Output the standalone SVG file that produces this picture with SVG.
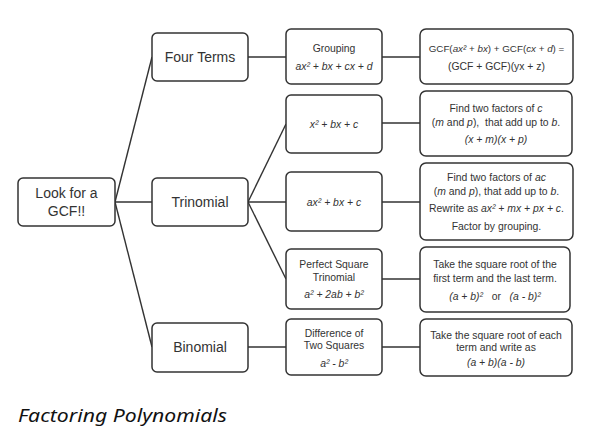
<svg xmlns="http://www.w3.org/2000/svg" width="595" height="443" viewBox="0 0 595 443">
<style>
.box{fill:#fff;stroke:#333;stroke-width:1.5}
.con line{stroke:#333;stroke-width:1.4}
text{font-family:"Liberation Sans",Arial,sans-serif;fill:#333;text-anchor:middle}
.big{font-size:14px}
.sm{font-size:10.4px}
.it{font-style:italic}
.title{font-family:"Noto Sans",sans-serif;font-style:italic;font-size:18px;fill:#111;text-anchor:start}
</style>
<rect width="595" height="443" fill="#fff"/>
<g class="con">
<line x1="115" y1="202" x2="152" y2="57"/>
<line x1="115" y1="202" x2="152" y2="202"/>
<line x1="115" y1="202" x2="152" y2="347"/>
<line x1="248" y1="57" x2="286" y2="57"/>
<line x1="248" y1="202" x2="286" y2="124"/>
<line x1="248" y1="202" x2="286" y2="202"/>
<line x1="248" y1="202" x2="286" y2="279"/>
<line x1="248" y1="347" x2="286" y2="347"/>
<line x1="382" y1="57" x2="420" y2="57"/>
<line x1="382" y1="123" x2="420" y2="123"/>
<line x1="382" y1="202" x2="420" y2="202"/>
<line x1="382" y1="279" x2="420" y2="279"/>
<line x1="382" y1="347" x2="420" y2="347"/>
</g>
<g id="gcf"><rect class="box" x="18" y="178" width="97" height="48" rx="5"/>
<text class="big" x="66.5" y="198">Look for a</text><text class="big" x="66.5" y="216">GCF!!</text></g>
<g id="four"><rect class="box" x="152" y="33" width="96" height="48" rx="5"/>
<text class="big" x="200" y="62">Four Terms</text></g>
<g id="tri"><rect class="box" x="152" y="178" width="96" height="48" rx="5"/>
<text class="big" x="200" y="207">Trinomial</text></g>
<g id="bin"><rect class="box" x="152" y="323" width="96" height="49" rx="5"/>
<text class="big" x="200" y="352">Binomial</text></g>

<g id="grouping"><rect class="box" x="286" y="29" width="96" height="55" rx="5"/>
<text class="sm" x="334" y="51.5">Grouping</text>
<text class="sm it" x="334" y="70">ax² + bx + cx + d</text></g>
<g id="x2"><rect class="box" x="286" y="95" width="96" height="58" rx="5"/>
<text class="sm it" x="334" y="127.5">x² + bx + c</text></g>
<g id="ax2"><rect class="box" x="286" y="172" width="96" height="59" rx="5"/>
<text class="sm it" x="334" y="205.5">ax² + bx + c</text></g>
<g id="pst"><rect class="box" x="286" y="249" width="96" height="60" rx="5"/>
<text class="sm" x="334" y="267.5">Perfect Square</text>
<text class="sm" x="334" y="280.5">Trinomial</text>
<text class="sm it" x="334" y="297.5">a² + 2ab + b²</text></g>
<g id="dts"><rect class="box" x="286" y="319" width="96" height="56" rx="5"/>
<text class="sm" x="334" y="336.5">Difference of</text>
<text class="sm" x="334" y="348.5">Two Squares</text>
<text class="sm it" x="334" y="366.5">a² - b²</text></g>

<g id="r1"><rect class="box" x="420" y="29" width="153" height="55" rx="6"/>
<text class="sm" x="496.5" y="51.5" style="font-size:9.8px">GCF(<tspan class="it">ax²</tspan> + <tspan class="it">bx</tspan>) + GCF(<tspan class="it">cx</tspan> + <tspan class="it">d</tspan>) =</text>
<text class="sm" x="496.5" y="70">(GCF + GCF)(yx + z)</text></g>
<g id="r2"><rect class="box" x="420" y="91" width="152" height="65" rx="6"/>
<text class="sm" x="496" y="111.5">Find two factors of <tspan class="it">c</tspan></text>
<text class="sm" x="496" y="125.5" xml:space="preserve">(<tspan class="it">m</tspan> and <tspan class="it">p</tspan>),  that add up to <tspan class="it">b</tspan>.</text>
<text class="sm it" x="496" y="142.5">(x + m)(x + p)</text></g>
<g id="r3"><rect class="box" x="420" y="163" width="153" height="77" rx="6"/>
<text class="sm" x="496.5" y="180.5">Find two factors of <tspan class="it">ac</tspan></text>
<text class="sm" x="496.5" y="194.5">(<tspan class="it">m</tspan> and <tspan class="it">p</tspan>), that add up to <tspan class="it">b</tspan>.</text>
<text class="sm" x="496.5" y="211.5">Rewrite as <tspan class="it">ax² + mx + px + c</tspan>.</text>
<text class="sm" x="496.5" y="229.5">Factor by grouping.</text></g>
<g id="r4"><rect class="box" x="420" y="247" width="150" height="65" rx="6"/>
<text class="sm" x="495" y="267.5">Take the square root of the</text>
<text class="sm" x="495" y="281.5">first term and the last term.</text>
<text class="sm it" x="495" y="299.5" xml:space="preserve">(a + b)²   <tspan font-style="normal">or</tspan>   (a - b)²</text></g>
<g id="r5"><rect class="box" x="420" y="319" width="152" height="57" rx="6"/>
<text class="sm" x="496" y="338.5">Take the square root of each</text>
<text class="sm" x="496" y="350.5">term and write as</text>
<text class="sm it" x="496" y="365.5">(a + b)(a - b)</text></g>

<text class="title" x="18" y="422" textLength="209" lengthAdjust="spacingAndGlyphs">Factoring Polynomials</text>
</svg>
